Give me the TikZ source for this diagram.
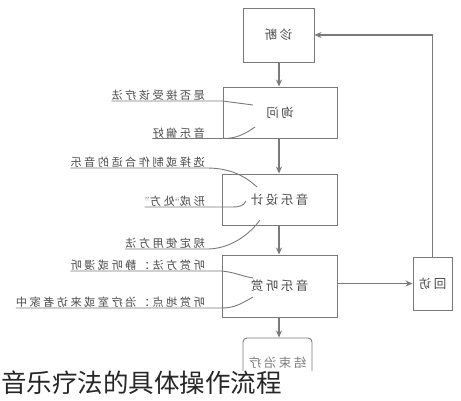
\documentclass[tikz,border=0pt]{standalone}
\usepackage{fontspec}
\usepackage{graphicx}
\usetikzlibrary{arrows.meta}
\newfontfamily\cjk{Noto Sans CJK SC}
\newfontfamily\cjkbox[LetterSpace=20]{Noto Sans CJK SC}
\newfontfamily\cjknote[LetterSpace=22]{Noto Sans CJK SC}
\definecolor{lineGray}{HTML}{7A7A7A}
\definecolor{textGray}{HTML}{4A4A4A}
\newcommand{\boxText}[1]{\reflectbox{\fontsize{12.5}{13}\cjkbox #1}}
\newcommand{\noteText}[1]{\reflectbox{\fontsize{11.2}{12}\cjknote #1}}
\newcommand{\latinQuote}[1]{{\fontsize{11.2}{12}\normalfont #1}}

\tikzset{
  stepbox/.style={draw=lineGray, line width=0.9pt, fill=white, inner sep=0pt, text=textGray},
  flow/.style={lineGray, line width=1.8pt, -{Stealth[length=7pt,width=6pt]}},
  note/.style={inner sep=0pt, text=textGray, anchor=south east},
  noteline/.style={lineGray, line width=0.9pt},
}

\begin{document}
\begin{tikzpicture}[x=1pt, y=-1pt]
    \useasboundingbox (0,0) rectangle (461,400);

    %steps
    \node[stepbox, minimum width=71pt, minimum height=54pt] (zhenduan) at (278.5,35) {\boxText{诊断}};
    \node[stepbox, minimum width=114pt, minimum height=51pt] (xunwen) at (280,112.5) {\boxText{询问}};
    \node[stepbox, minimum width=115pt, minimum height=51pt] (sheji) at (279.5,199.5) {\boxText{音乐设计}};
    \node[stepbox, minimum width=115pt, minimum height=62pt] (tingshang) at (279.5,286) {\boxText{音乐听赏}};
    \node[stepbox, minimum width=39pt, minimum height=53pt] (huifang) at (432.5,283.5) {\boxText{回访}};
    \node[stepbox, rounded corners=4pt, minimum width=69pt, minimum height=50pt, text=gray] (jieshu) at (277.5,363) {\boxText{结束治疗}};

    %flow
    \draw[flow] (zhenduan.south -| 279,0) -- (xunwen.north -| 279,0);
    \draw[flow] (xunwen.south -| 279,0) -- (sheji.north -| 279,0);
    \draw[flow] (sheji.south -| 279,0) -- (tingshang.north -| 279,0);
    \draw[flow] (tingshang.south -| 279,0) -- (jieshu.north -| 279,0);
    \draw[flow] (tingshang.east |- huifang) -- (huifang.west);
    \draw[flow] (huifang.north) |- (zhenduan.east);

    %for xunwen
    \node[note] (accept) at (205,101) {\noteText{是否接受该疗法}};
    \draw[noteline] (accept.south west) -- (xunwen.west |- accept.south) -- (253,105);
    \node[note] (prefer) at (205,138.5) {\noteText{音乐偏好}};
    \draw[noteline] (prefer.south west) -- (xunwen.west |- prefer.south) to[out=0, in=-145] (255,127);

    %for sheji
    \node[note] (choose) at (205,168) {\noteText{选择或制作合适的音乐}};
    \draw[noteline] (choose.south west) -- (207,168) .. controls (230,168) and (245,176) .. (257,187);
    \node[note] (recipe) at (205,207) {\noteText{形成\latinQuote{“}处方\latinQuote{”}}};
    \draw[noteline] (recipe.south west) -- (233,207) to[out=0, in=-115] (246,201);
    \node[note] (usage) at (205,249) {\noteText{规定使用方法}};
    \draw[noteline] (usage.south west) -- (207,249) .. controls (225,249) and (245,240) .. (260,220);

    %for tingshang
    \node[note] (method) at (205,271) {\noteText{听赏方法：静听或漫听}};
    \draw[noteline] (method.south west) -- (tingshang.west |- method.south) to[out=-5, in=170] (253,278);
    \node[note] (place) at (205,308) {\noteText{听赏地点：治疗室或来访者家中}};
    \draw[noteline] (place.south west) -- (tingshang.west |- place.south) to[out=0, in=-150] (253,297);

    %caption
    \fill[white] (0,371) rectangle (461,400);
    \node[anchor=west, inner sep=0pt, text=black!85] (caption) at (1,383) {\fontsize{25.5}{26}\cjk 音乐疗法的具体操作流程};
\end{tikzpicture}
\end{document}
